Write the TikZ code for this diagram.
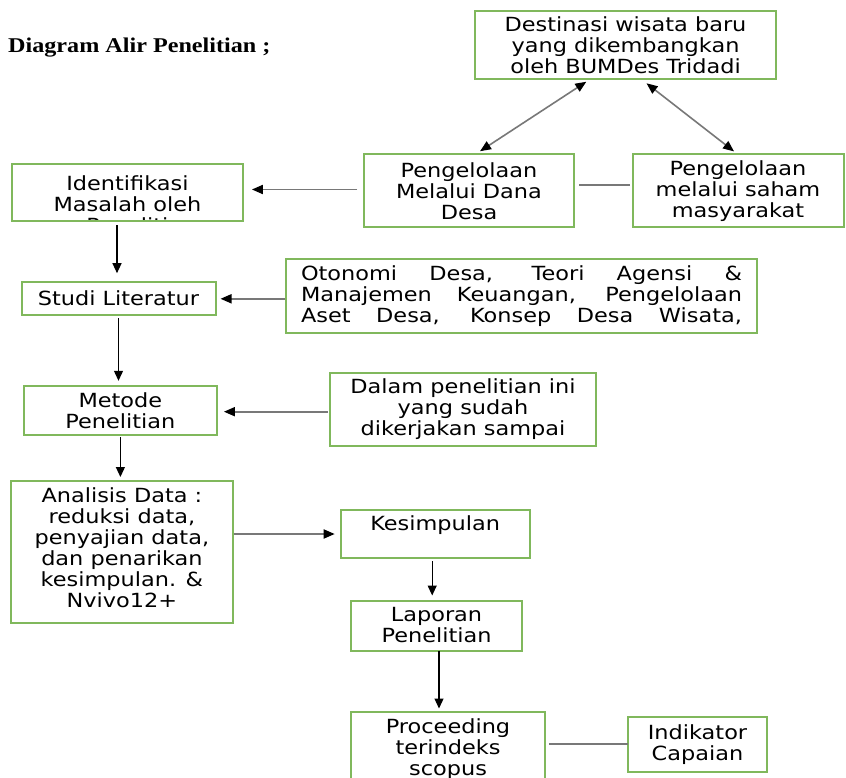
\documentclass[tikz,border=0pt]{standalone}
\usepackage{fontspec}
\usetikzlibrary{arrows.meta,calc}
\newfontfamily\dv[FakeStretch=1.15]{DejaVu Sans}
\newfontfamily\tm[FakeStretch=1.15]{Liberation Serif}
\definecolor{bgreen}{RGB}{128,184,92}
\definecolor{lgray}{RGB}{120,120,120}
\tikzset{
  bx/.style={draw=bgreen, line width=2pt, inner sep=0pt, outer sep=0pt, align=center,
    font=\dv\fontsize{19.5}{21}\selectfont},
  txt/.style={inner sep=0pt, align=center, font=\dv\fontsize{19.5}{21}\selectfont},
  tip/.style={Triangle[length=11pt,width=9pt,color=black]},
  harr/.style={draw=lgray, line width=1.8pt, -{Triangle[length=11pt,width=9pt,color=black]}},
  darr/.style={draw=lgray, line width=1.6pt, {Triangle[length=11pt,width=9pt,color=black]}-{Triangle[length=11pt,width=9pt,color=black]}},
  varr/.style={draw=black, line width=1.2pt, -{Triangle[length=10pt,width=9pt]}},
  conn/.style={draw=lgray, line width=1.8pt},
}
\begin{document}
\begin{tikzpicture}[x=1pt,y=-1pt]
\useasboundingbox (0,0) rectangle (846,778);
\clip (0,0) rectangle (846,778);
\fill[white] (0,0) rectangle (846,778);

\node[anchor=base west, inner sep=0pt, font=\tm\bfseries\fontsize{21}{24}\selectfont] (title) at (8,53) {Diagram Alir Penelitian ;};

\node[bx, minimum width=301pt, minimum height=68pt] (dest) at (625.5,45) {Destinasi wisata baru\\yang dikembangkan\\oleh BUMDes Tridadi};
\node[bx, minimum width=210pt, minimum height=73pt] (dana) at (469,191) {Pengelolaan\\Melalui Dana\\Desa};
\node[bx, minimum width=211pt, minimum height=73pt] (saham) at (738,191) {Pengelolaan\\melalui saham\\masyarakat};

\begin{scope}
  \clip (12,164.5) rectangle (243,221);
  \node[txt] (identtxt) at (127.4,204) {Identifikasi\\Masalah oleh\\Peneliti};
\end{scope}
\node[bx, minimum width=231pt, minimum height=57pt] (ident) at (127.4,192.8) {};

\node[bx, minimum width=194pt, minimum height=33pt] (studi) at (118.5,298.7) {Studi Literatur};
\node[bx, minimum width=471pt, minimum height=74pt] (oton) at (521.5,296.3) {%
  \makebox[441pt][s]{Otonomi Desa, Teori Agensi \&}\\
  \makebox[441pt][s]{Manajemen Keuangan, Pengelolaan}\\
  \makebox[441pt][s]{Aset Desa, Konsep Desa Wisata,}};

\node[bx, minimum width=193pt, minimum height=49pt] (metode) at (120.4,410.3) {Metode\\Penelitian};
\node[bx, minimum width=266pt, minimum height=73pt] (dalam) at (463,409.2) {Dalam penelitian ini\\yang sudah\\dikerjakan sampai};

\node[bx, minimum width=222pt, minimum height=142pt] (anal) at (121.9,552) {};
\node[txt] (analtxt) at (121.9,548) {Analisis Data :\\reduksi data,\\penyajian data,\\dan penarikan\\kesimpulan. \&\\Nvivo12+};

\node[bx, minimum width=189pt, minimum height=48pt] (kesim) at (435.2,534) {};
\node[txt] (kesimtxt) at (435.2,525.5) {Kesimpulan};

\node[bx, minimum width=171pt, minimum height=50pt] (lapor) at (436.5,625.5) {Laporan\\Penelitian};

\node[bx, minimum width=194pt, minimum height=78pt] (proc) at (448,750.5) {};
\node[txt] (proctxt) at (448,749) {Proceeding\\terindeks\\scopus};

\node[bx, minimum width=139pt, minimum height=55pt] (indik) at (697.5,744.2) {Indikator\\Capaian};

% connectors
\draw[darr, shorten <=5pt, shorten >=6pt] ([xshift=-35pt]dest.south) -- ([xshift=6pt]dana.north);
\draw[darr, shorten <=7pt, shorten >=5pt] ([xshift=15.5pt]dest.south) -- ([xshift=0pt]saham.north);
\draw[conn, shorten <=5pt, shorten >=3pt] ([yshift=6pt]dana.east) -- ([yshift=6pt]dana.east -| saham.west);
\draw[harr, shorten <=7pt, shorten >=9pt] ([yshift=1.5pt]dana.west) -- ([yshift=1.5pt]dana.west -| ident.east);
\draw[varr, shorten <=4pt, shorten >=9pt] ([xshift=-1.5pt]studi.north |- ident.south) -- ([xshift=-1.5pt]studi.north);
\draw[harr, shorten <=1pt, shorten >=5pt] ([yshift=-2.5pt]oton.west) -- ([yshift=-2.5pt]oton.west -| studi.east);
\draw[varr, shorten <=3pt, shorten >=5pt] (studi.south) -- (studi.south |- metode.north);
\draw[harr, shorten <=2pt, shorten >=7pt] ([yshift=-2.5pt]dalam.west) -- ([yshift=-2.5pt]dalam.west -| metode.east);
\draw[varr, shorten <=2pt, shorten >=4pt] (metode.south) -- (metode.south |- anal.north);
\draw[harr, shorten <=1pt, shorten >=6pt] (anal.east |- kesim.west) -- (kesim.west);
\draw[varr, shorten <=3pt, shorten >=5pt] ([xshift=-3pt]kesim.south) -- ([xshift=-3pt]kesim.south |- lapor.north);
\draw[varr, shorten >=3pt] ([xshift=2.5pt]lapor.south) -- ([xshift=2.5pt]lapor.south |- proc.north);
\draw[conn, shorten <=4pt, shorten >=0pt] (indik.west -| proc.east) -- (indik.west);
\end{tikzpicture}
\end{document}
